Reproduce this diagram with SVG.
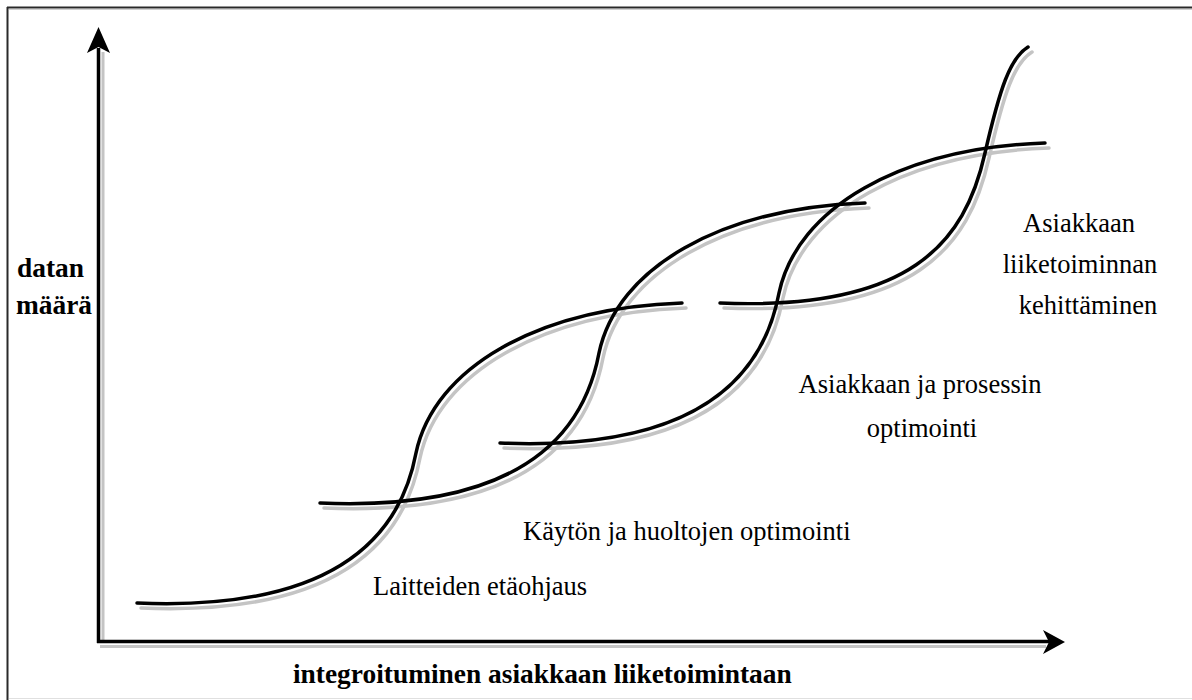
<svg xmlns="http://www.w3.org/2000/svg" xmlns:xlink="http://www.w3.org/1999/xlink" width="1192" height="700" viewBox="0 0 1192 700">
<style>
.curve{fill:none;stroke:#000;stroke-width:3.5;stroke-linecap:round}
.shadow{fill:none;stroke:#c4c4c4;stroke-width:3.5;stroke-linecap:round}
.lbl{font-family:"Liberation Serif","Times New Roman",serif;font-size:26.5px;fill:#000}
.bold{font-family:"Liberation Serif","Times New Roman",serif;font-size:27.4px;font-weight:bold;fill:#000}
</style>
<defs>
<path id="s" d="M0,0 C190,8 262,-60 279,-150 C297,-235 400,-295 545,-300"/>
<path id="s4" d="M0,0 C190,8 245,-60 265,-150 C280,-215 290,-245 308,-256"/>
</defs>
<rect width="1192" height="700" fill="#fff"/>
<g id="frame">
<line x1="7" y1="7.5" x2="1192" y2="7.5" stroke="#2a2a2a" stroke-width="2"/>
<line x1="9" y1="9.5" x2="1192" y2="9.5" stroke="#d0d0d0" stroke-width="1"/>
<line x1="7.5" y1="7" x2="7.5" y2="700" stroke="#2a2a2a" stroke-width="2"/>
<line x1="9" y1="698.5" x2="1192" y2="698.5" stroke="#e0e0e0" stroke-width="1"/>
</g>
<g id="axes">
<line x1="103" y1="52" x2="103" y2="643" stroke="#c4c4c4" stroke-width="3"/>
<line x1="100" y1="646.5" x2="1046" y2="646.5" stroke="#c4c4c4" stroke-width="3"/>
<line x1="98.5" y1="48" x2="98.5" y2="643" stroke="#000" stroke-width="3.5"/>
<line x1="97" y1="641.5" x2="1050" y2="641.5" stroke="#000" stroke-width="3.5"/>
<path d="M98.5,27 L110,53 L98.5,47 L87,53 Z" fill="#000"/>
<path d="M1065,642 L1043,630 L1049,642 L1043,654 Z" fill="#000"/>
</g>
<g id="shadows">
<use xlink:href="#s" class="shadow" transform="translate(141,608)"/>
<use xlink:href="#s" class="shadow" transform="translate(324,508)"/>
<use xlink:href="#s" class="shadow" transform="translate(504,448)"/>
<use xlink:href="#s4" class="shadow" transform="translate(724,308)"/>
</g>
<g id="curves">
<use xlink:href="#s" class="curve" transform="translate(137,603)"/>
<use xlink:href="#s" class="curve" transform="translate(320,503)"/>
<use xlink:href="#s" class="curve" transform="translate(500,443)"/>
<use xlink:href="#s4" class="curve" transform="translate(720,303)"/>
</g>
<g id="labels">
<text class="bold" x="17" y="277">datan</text>
<text class="bold" x="16" y="314">määrä</text>
<text class="bold" x="293" y="683">integroituminen asiakkaan liiketoimintaan</text>
<text class="lbl" x="373" y="595">Laitteiden etäohjaus</text>
<text class="lbl" x="523" y="540">Käytön ja huoltojen optimointi</text>
<text class="lbl" x="920" y="393" text-anchor="middle">Asiakkaan ja prosessin</text>
<text class="lbl" x="922" y="437" text-anchor="middle">optimointi</text>
<text class="lbl" x="1079" y="232" text-anchor="middle">Asiakkaan</text>
<text class="lbl" x="1080" y="273" text-anchor="middle">liiketoiminnan</text>
<text class="lbl" x="1088" y="314" text-anchor="middle">kehittäminen</text>
</g>
</svg>
